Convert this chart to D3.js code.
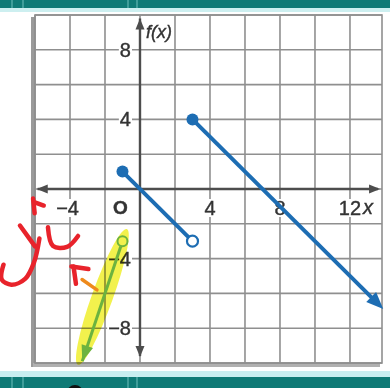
<!DOCTYPE html>
<html>
<head>
<meta charset="utf-8">
<script src="https://cdn.jsdelivr.net/npm/d3@7"></script>
<style>
  html, body { margin: 0; padding: 0; background: #fff; }
  svg { display: block; }
  .tick-label { font-family: "Liberation Sans Narrow", "Arial Narrow", "Liberation Sans", Arial, sans-serif; fill: #333; }
</style>
</head>
<body>
<svg id="chart" width="390" height="388"></svg>
<script>
// Piecewise function: f(x) = -x on [-1, 3), f(x) = -x + 7 for x >= 3
const segmentA = [[-1, 1], [3, -3]];          // closed start, open end
const segmentB = [[3, 4], [13.9, -6.9]];       // closed start, arrow end
// Hand-drawn extra piece (green) for x < -1
const greenPiece = [[-1, -3], [-3.3, -9.9]];   // open start, arrow end
const highlight = [[-0.75, -2.3], [-3.55, -10.1]];

const xTicks = [-4, 4, 8, 12];
const yTicks = [8, 4, -4, -8];
const xGrid = d3.range(-6, 13, 2);
const yGrid = d3.range(-10, 11, 2);

// Red handwritten marks, in graph units
const redInk = [
  [[-6.11, -0.55], [-6.02, -1.4]],
  [[-6.05, -0.75], [-5.5, -0.95]],
  [[-6.86, -2.1], [-6.0, -3.3]],
  [[-5.75, -2.85], [-6.05, -4.2], [-6.55, -5.15], [-7.35, -5.5], [-7.9, -5.2], [-7.8, -4.35]],
  [[-5.26, -2.2], [-4.97, -3.28], [-4.17, -3.33], [-3.54, -2.70]],
  [[-3.92, -4.45], [-2.95, -4.6]],
  [[-3.8, -4.45], [-3.66, -5.45]]
];
const orangeInk = [[[-3.31, -5.2], [-2.46, -5.8]]];

const svg = d3.select("#chart");
const W = 390, H = 388;

// Header and footer bands
const teal = "#0f7a76";
svg.append("rect").attr("x", 0).attr("y", 0).attr("width", W).attr("height", 8).attr("fill", teal);
svg.append("rect").attr("x", 0).attr("y", 8).attr("width", W).attr("height", 4).attr("fill", "#cdeff0");
svg.append("rect").attr("x", 0).attr("y", 371).attr("width", W).attr("height", 6).attr("fill", "#c8eef0");
svg.append("rect").attr("x", 0).attr("y", 377).attr("width", W).attr("height", 11).attr("fill", teal);
[12, 23, 128, 137].forEach(px => {
  svg.append("line").attr("x1", px).attr("x2", px).attr("y1", 0).attr("y2", 8)
    .attr("stroke", "#5fb5b2").attr("stroke-width", 1.2);
  svg.append("line").attr("x1", px).attr("x2", px).attr("y1", 377).attr("y2", 388)
    .attr("stroke", "#5fb5b2").attr("stroke-width", 1.2);
});
svg.append("ellipse").attr("cx", 75).attr("cy", 393).attr("rx", 8).attr("ry", 8).attr("fill", "#111");

const x = d3.scaleLinear().domain([-6, 13.83]).range([35, 382]);
const y = d3.scaleLinear().domain([-10, 10]).range([363, 15]);

// Paper shadow
svg.append("rect").attr("x", x(-6) - 4).attr("y", y(10) + 2).attr("width", 5).attr("height", y(-10) - y(10) + 2)
  .attr("fill", "#9a9a9a");
svg.append("rect").attr("x", x(-6) - 2).attr("y", y(-10)).attr("width", x(13.83) - x(-6)).attr("height", 4)
  .attr("fill", "#b0b0b0");
svg.append("rect").attr("x", x(-6)).attr("y", y(10)).attr("width", x(13.83) - x(-6)).attr("height", y(-10) - y(10))
  .attr("fill", "#fff");

// Grid
const grid = svg.append("g").attr("stroke", "#8f8f8f").attr("stroke-width", 1.6);
xGrid.forEach(v => grid.append("line").attr("x1", x(v)).attr("x2", x(v)).attr("y1", y(10)).attr("y2", y(-10)));
yGrid.forEach(v => grid.append("line").attr("x1", x(-6)).attr("x2", x(13.83)).attr("y1", y(v)).attr("y2", y(v)));
grid.append("rect").attr("x", x(-6)).attr("y", y(10)).attr("width", x(13.83) - x(-6)).attr("height", y(-10) - y(10))
  .attr("fill", "none");

// Axes with arrowheads at both ends
const axisColor = "#4d4d4d";
function arrowHead(g, tip, angle, len, half, color) {
  const a = angle;
  const p1 = [tip[0] - len * Math.cos(a) + half * Math.sin(a), tip[1] - len * Math.sin(a) - half * Math.cos(a)];
  const p2 = [tip[0] - len * Math.cos(a) - half * Math.sin(a), tip[1] - len * Math.sin(a) + half * Math.cos(a)];
  return g.append("path").attr("d", `M${tip[0]},${tip[1]}L${p1[0]},${p1[1]}L${p2[0]},${p2[1]}Z`).attr("fill", color);
}
const axes = svg.append("g");
axes.append("line").attr("x1", x(-5.85)).attr("x2", x(13.6)).attr("y1", y(0)).attr("y2", y(0))
  .attr("stroke", axisColor).attr("stroke-width", 2.4);
axes.append("line").attr("x1", x(0)).attr("x2", x(0)).attr("y1", y(9.8)).attr("y2", y(-9.6))
  .attr("stroke", axisColor).attr("stroke-width", 2.4);
arrowHead(axes, [x(13.72), y(0)], 0, 11, 4.5, axisColor);
arrowHead(axes, [x(-5.9), y(0)], Math.PI, 11, 4.5, axisColor);
arrowHead(axes, [x(0), y(9.8)], -Math.PI / 2, 11, 4.5, axisColor);
arrowHead(axes, [x(0), y(-9.65)], Math.PI / 2, 11, 4.5, axisColor);

// Tick labels with white knock-out backgrounds
const labels = svg.append("g");
function label(txt, px, py, anchor, size, italic) {
  const t = labels.append("text").attr("class", "tick-label").attr("x", px).attr("y", py)
    .attr("text-anchor", anchor).attr("font-size", size).attr("dominant-baseline", "central")
    .attr("stroke", "#333").attr("stroke-width", 0.4)
    .text(txt);
  if (italic) t.attr("font-style", "italic");
  const b = t.node().getBBox();
  labels.insert("rect", "text").attr("x", b.x - 1).attr("y", b.y + 2).attr("width", b.width + 2)
    .attr("height", b.height - 4).attr("fill", "#fff");
  return t;
}
yTicks.forEach(v => label(v < 0 ? "\u2212" + Math.abs(v) : String(v), x(0) - 9, y(v), "end", 20));
xTicks.forEach(v => {
  const txt = v < 0 ? "\u2212" + Math.abs(v) : String(v);
  label(txt, v < 0 ? x(v) + 9 : x(v), y(0) + 19, v < 0 ? "end" : "middle", 20);
});
label("O", x(0) - 27, y(0) + 18, "start", 19).attr("font-family", "Liberation Sans, Arial, sans-serif").attr("font-weight", "bold");
label("x", x(12) + 13, y(0) + 18, "start", 20, true).attr("font-family", "Liberation Serif, serif");
label("f(x)", x(0) + 6, y(9.0), "start", 18, true);

// Highlighter mark behind the green piece
const hx0 = x(highlight[0][0]), hy0 = y(highlight[0][1]);
const hx1 = x(highlight[1][0]), hy1 = y(highlight[1][1]);
const hLen = Math.hypot(hx1 - hx0, hy1 - hy0);
const hAng = Math.atan2(hy1 - hy0, hx1 - hx0) * 180 / Math.PI;
svg.append("ellipse").attr("cx", (hx0 + hx1) / 2).attr("cy", (hy0 + hy1) / 2)
  .attr("rx", hLen / 2).attr("ry", 10.5)
  .attr("transform", `rotate(${hAng},${(hx0 + hx1) / 2},${(hy0 + hy1) / 2})`)
  .attr("fill", "#f1f03a").attr("fill-opacity", 0.9).style("mix-blend-mode", "multiply");

// Blue pieces
const line = d3.line().x(d => x(d[0])).y(d => y(d[1]));
const blue = "#1d6db3";
svg.append("path").attr("d", line(segmentA)).attr("stroke", blue).attr("stroke-width", 4).attr("fill", "none");
const bEnd = segmentB[1], bStart = segmentB[0];
const bAng = Math.atan2(y(bEnd[1]) - y(bStart[1]), x(bEnd[0]) - x(bStart[0]));
svg.append("path").attr("d", line([bStart, [bEnd[0] - 0.6 * Math.cos(bAng), bEnd[1] + 0.6 * Math.sin(bAng)]]))
  .attr("stroke", blue).attr("stroke-width", 4).attr("fill", "none");
arrowHead(svg, [x(bEnd[0]), y(bEnd[1])], bAng, 17, 7, blue);
svg.append("circle").attr("cx", x(segmentA[0][0])).attr("cy", y(segmentA[0][1])).attr("r", 6).attr("fill", blue);
svg.append("circle").attr("cx", x(segmentA[1][0])).attr("cy", y(segmentA[1][1])).attr("r", 5.5)
  .attr("fill", "#fff").attr("stroke", blue).attr("stroke-width", 2.2);
svg.append("circle").attr("cx", x(bStart[0])).attr("cy", y(bStart[1])).attr("r", 6).attr("fill", blue);

// Green piece
const green = "#6cb33f";
const gS = greenPiece[0], gE = greenPiece[1];
const gAng = Math.atan2(y(gE[1]) - y(gS[1]), x(gE[0]) - x(gS[0]));
svg.append("path").attr("d", line([[gS[0] - 0.1, gS[1] - 0.3], gE])).attr("stroke", green)
  .attr("stroke-width", 3).attr("fill", "none");
arrowHead(svg, [x(gE[0]), y(gE[1])], gAng, 16, 6, green);
svg.append("circle").attr("cx", x(gS[0])).attr("cy", y(gS[1])).attr("r", 5)
  .attr("fill", "none").attr("stroke", green).attr("stroke-width", 2);

// Red and orange handwriting
const curve = d3.line().x(d => x(d[0])).y(d => y(d[1])).curve(d3.curveCatmullRom);
redInk.forEach(s => svg.append("path").attr("d", curve(s)).attr("stroke", "#e8232b").attr("stroke-width", 4.5)
  .attr("stroke-linecap", "round").attr("stroke-linejoin", "round").attr("fill", "none"));
orangeInk.forEach(s => svg.append("path").attr("d", curve(s)).attr("stroke", "#ee8a1c").attr("stroke-width", 3.5)
  .attr("stroke-linecap", "round").attr("fill", "none"));
</script>
</body>
</html>
